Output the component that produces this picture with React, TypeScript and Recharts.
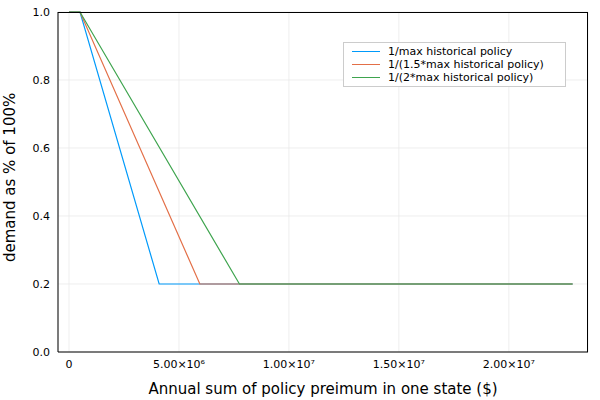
import { LineChart, Line, XAxis, YAxis, CartesianGrid } from "recharts";

const seriesNames = ["1/max historical policy", "1/(1.5*max historical policy)", "1/(2*max historical policy)"];
const seriesColors = ["#009AFA", "#E36F47", "#3EA44E"];
// breakpoints for each series
const xStart = [0, 0.5e6];
const kneeX = [4.1e6, 5.95e6, 7.75e6];
const xEnd = 2.29e7;
const yHigh = 1.0;
const yLow = 0.2;
const xTicks = [0, 5e6, 1e7, 1.5e7, 2e7];
const xTickLabels = ["0", "5.00×10⁶", "1.00×10⁷", "1.50×10⁷", "2.00×10⁷"];
const yTicks = [0, 0.2, 0.4, 0.6, 0.8, 1.0];

const seriesData = kneeX.map((k) => [
  { x: xStart[0], y: yHigh },
  { x: xStart[1], y: yHigh },
  { x: k, y: yLow },
  { x: xEnd, y: yLow },
]);

const font = "DejaVu Sans, sans-serif";

function LegendBox() {
  return (
    <div style={{ position: "absolute", top: 42, left: 343, width: 223, boxSizing: "border-box", border: "1px solid #ccc", background: "#fff", padding: "2px 8px", fontFamily: font, fontSize: 11, color: "#000" }}>
      {seriesNames.map((n, i) => (
        <div key={n} style={{ display: "flex", alignItems: "center", height: 13 }}>
          <span style={{ width: 28, height: 0, borderTop: `1.5px solid ${seriesColors[i]}`, marginRight: 8, display: "inline-block" }} />
          {n}
        </div>
      ))}
    </div>
  );
}

export default function App() {
  return (
    <div style={{ position: "absolute", left: 0, top: 0, width: 600, height: 400, background: "#fff" }}>
      <LineChart width={600} height={400} margin={{ top: 12, right: 12, left: 0, bottom: 0 }}>
        <CartesianGrid xAxisId="b" yAxisId="l" stroke="#e6e6e6" strokeWidth={0.7} />
        <XAxis
          xAxisId="b"
          type="number"
          dataKey="x"
          domain={[-0.5e6, 2.36e7]}
          ticks={xTicks}
          tickFormatter={(v: number) => xTickLabels[xTicks.indexOf(v)]}
          height={48}
          tick={{ fontSize: 11, fill: "#000", fontFamily: font }}
          tickLine={false}
          stroke="#000"
          allowDataOverflow
          label={{ value: "Annual sum of policy preimum in one state ($)", position: "insideBottom", offset: 6, fontSize: 15, fill: "#000", fontFamily: font }}
        />
        <YAxis
          yAxisId="l"
          type="number"
          domain={[0, 1]}
          ticks={yTicks}
          tickFormatter={(v: number) => v.toFixed(1)}
          width={58}
          tick={{ fontSize: 11, fill: "#000", fontFamily: font }}
          tickLine={false}
          stroke="#000"
          label={{ value: "demand as % of 100%", angle: -90, position: "insideLeft", offset: 10, dy: 80, fontSize: 15, fill: "#000", fontFamily: font }}
        />
        {seriesData.map((d, i) => (
          <Line
            key={seriesNames[i]}
            xAxisId="b"
            yAxisId="l"
            data={d}
            dataKey="y"
            name={seriesNames[i]}
            stroke={seriesColors[i]}
            strokeWidth={1.2}
            dot={false}
            isAnimationActive={false}
          />
        ))}
      </LineChart>
      {/* plot frame */}
      <div style={{ position: "absolute", left: 58, top: 12, width: 530, height: 340, boxSizing: "border-box", borderTop: "1px solid #000", borderRight: "1px solid #000", pointerEvents: "none" }} />
      <LegendBox />
    </div>
  );
}
